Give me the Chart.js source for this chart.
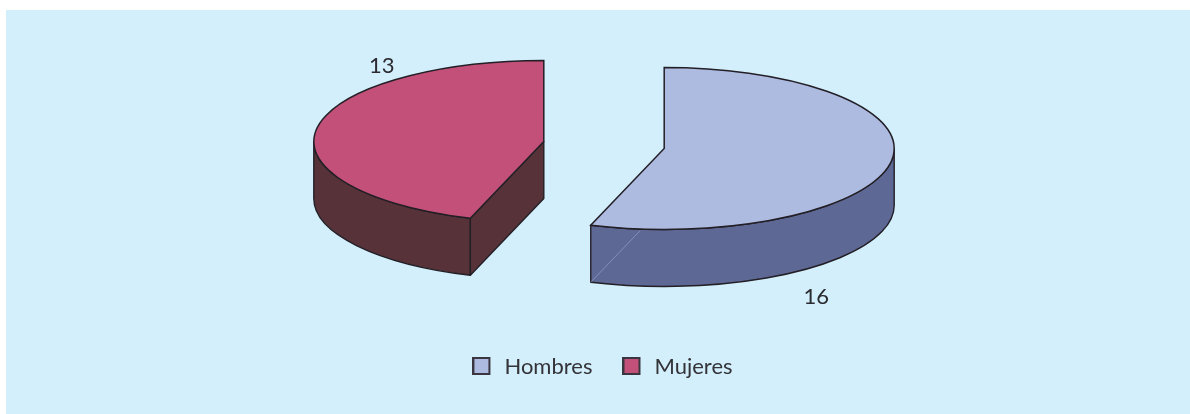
<!DOCTYPE html>
<html><head><meta charset="utf-8">
<style>
html,body{margin:0;padding:0;background:#fff;width:1190px;height:414px;overflow:hidden}
#wrap{position:absolute;left:6px;top:10px;width:1184px;height:404px;background:#d3effc}
canvas{position:absolute;left:0;top:0}
</style>
<script src="https://cdn.jsdelivr.net/npm/chart.js@4"></script>
</head><body>
<div id="wrap"></div>
<canvas id="c" width="1190" height="414"></canvas>
<script>
const categories = ['Hombres', 'Mujeres'];
const values = [16, 13];
const topColors = ['#adbbe0', '#c25078'];
const wallColors = ['#5e6894', '#573339'];
const lineColor = '#231f26';
const PIE = {cx: 604, cy: 145, squash: 0.352, radius: 230, depth: 57, explode: 61};
const labelShift = [[152, 148], [-162, -76]];

function sliceGeom(arc) {
  const mid = (arc.startAngle + arc.endAngle) / 2;
  return {
    cx: PIE.cx + Math.cos(mid) * PIE.explode,
    cy: PIE.cy + Math.sin(mid) * PIE.explode * PIE.squash,
    a0: arc.startAngle, a1: arc.endAngle, r: arc.outerRadius
  };
}
function rimPoint(g, a, dz) {
  return [g.cx + Math.cos(a) * g.r, g.cy + Math.sin(a) * g.r * PIE.squash + dz];
}
function ellipseArc(ctx, g, dz, from, to, ccw) {
  ctx.ellipse(g.cx, g.cy + dz, g.r, g.r * PIE.squash, 0, from, to, ccw);
}
// A radial cut is turned to the viewer when its outward normal points down the page.
function cutFacesFront(a, isStart) {
  return (isStart ? -Math.cos(a) : Math.cos(a)) > 0;
}
function drawWalls(ctx, g, i) {
  const d = PIE.depth;
  ctx.fillStyle = wallColors[i];
  ctx.strokeStyle = lineColor;
  ctx.lineWidth = 1.4;
  ctx.lineJoin = 'round';
  // visible part of the rim: the front half of the ellipse
  const from = Math.max(g.a0, 0), to = Math.min(g.a1, Math.PI);
  if (to > from) {
    ctx.beginPath();
    ellipseArc(ctx, g, 0, from, to, false);
    ellipseArc(ctx, g, d, to, from, true);
    ctx.closePath();
    ctx.fill();
    ctx.stroke();
  }
  [[g.a0, true], [g.a1, false]].forEach(([a, isStart]) => {
    if (!cutFacesFront(a, isStart)) return;
    const pt = rimPoint(g, a, 0);
    ctx.beginPath();
    ctx.moveTo(g.cx, g.cy);
    ctx.lineTo(pt[0], pt[1]);
    ctx.lineTo(pt[0], pt[1] + d);
    ctx.lineTo(g.cx, g.cy + d);
    ctx.closePath();
    ctx.fill();
    ctx.stroke();
  });
}

const pie3d = {
  id: 'pie3d',
  beforeDatasetsDraw(chart) {
    const ctx = chart.ctx, meta = chart.getDatasetMeta(0);
    meta.data.forEach((arc, i) => {
      const g = sliceGeom(arc);
      drawWalls(ctx, g, i);
      ctx.save();
      ctx.translate(g.cx, g.cy);
      ctx.scale(1, PIE.squash);
      ctx.translate(-arc.x, -arc.y);
      arc.draw(ctx);
      ctx.restore();
      // outline with an even line width
      ctx.strokeStyle = lineColor;
      ctx.lineWidth = 1.5;
      ctx.lineJoin = 'miter';
      ctx.beginPath();
      ctx.moveTo(g.cx, g.cy);
      ellipseArc(ctx, g, 0, g.a0, g.a1, false);
      ctx.closePath();
      ctx.stroke();
      if (i === 0) {
        // faint seam seen on the front wall of the first slice
        const p = rimPoint(g, g.a1, PIE.depth);
        ctx.strokeStyle = 'rgba(175,188,225,0.6)';
        ctx.lineWidth = 0.8;
        ctx.beginPath();
        ctx.moveTo(p[0], p[1]);
        ctx.lineTo(p[0] + (g.cx - p[0]) * 0.67, p[1] + (g.cy + PIE.depth - p[1]) * 0.67);
        ctx.stroke();
      }
      ctx.fillStyle = '#2b2a30';
      ctx.font = '22px Lato';
      ctx.textAlign = 'center';
      ctx.textBaseline = 'middle';
      ctx.fillText(String(values[i]), g.cx + labelShift[i][0], g.cy + labelShift[i][1]);
    });
    return false;
  }
};

// Legend swatch: the box sits at the left of a slightly wider transparent slot.
function swatch(color) {
  const s = document.createElement('canvas');
  s.width = 21; s.height = 20;
  const c = s.getContext('2d');
  c.fillStyle = color;
  c.strokeStyle = '#3a3640';
  c.lineWidth = 2;
  c.fillRect(1, 1, 16, 16);
  c.strokeRect(1, 1, 16, 16);
  return s;
}

new Chart(document.getElementById('c'), {
  type: 'pie',
  data: {labels: categories, datasets: [{data: values, backgroundColor: topColors, borderWidth: 0, clip: false}]},
  options: {
    responsive: false, animation: false,
    radius: PIE.radius,
    layout: {padding: {left: 15, top: 0, bottom: 26, right: 0}},
    plugins: {
      tooltip: {enabled: false},
      legend: {
        position: 'bottom',
        labels: {
          color: '#333338', font: {family: 'Lato', size: 22}, padding: 30,
          usePointStyle: true, pointStyleWidth: 21, boxHeight: 18,
          generateLabels(chart) {
            return Chart.overrides.pie.plugins.legend.labels.generateLabels(chart)
              .map((l, i) => Object.assign(l, {pointStyle: swatch(topColors[i])}));
          }
        }
      }
    }
  },
  plugins: [pie3d]
});
</script>
</body></html>
